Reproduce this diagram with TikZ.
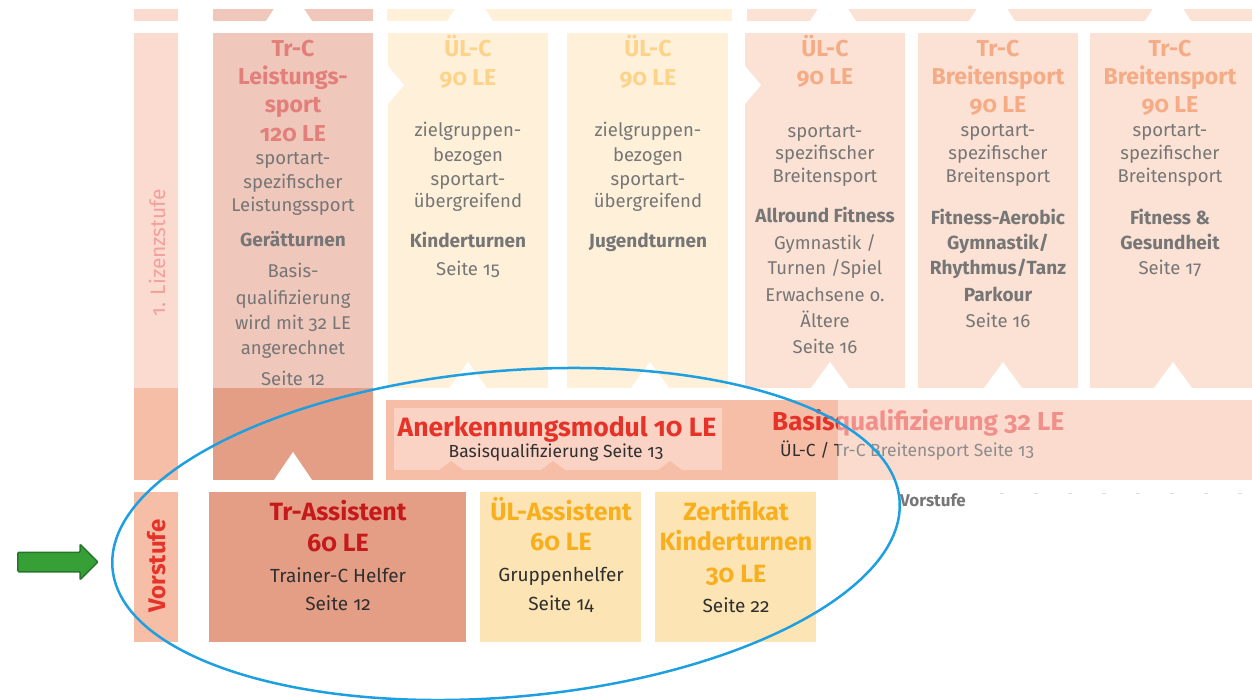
\documentclass[tikz,border=0pt]{standalone}
\usepackage{fontspec}
\setmainfont{Fira Sans}[Numbers=OldStyle]
\usetikzlibrary{shapes.arrows}
\definecolor{lizenz}{HTML}{FBDAD0}
\definecolor{leistung}{HTML}{F0C7BB}
\definecolor{ulc}{HTML}{FEF0D9}
\definecolor{breiten}{HTML}{FCE2D4}
\definecolor{basis}{HTML}{F7BEA7}
\definecolor{assist}{HTML}{E59E86}
\definecolor{anerk}{HTML}{FBD3C4}
\definecolor{ulassist}{HTML}{FDE4B4}
\definecolor{trcfade}{HTML}{E27F7B}
\definecolor{ulcfade}{HTML}{FDD38A}
\definecolor{brfade}{HTML}{F5AB86}
\definecolor{grau}{HTML}{767676}
\definecolor{dunkel}{HTML}{2F2F2F}
\definecolor{rot}{HTML}{E6332A}
\definecolor{dunkelrot}{HTML}{C51A1B}
\definecolor{ulorange}{HTML}{F8AF1E}
\definecolor{lizenztext}{HTML}{F2A09C}
\definecolor{kreis}{HTML}{1E9FE0}
\definecolor{pfeil}{HTML}{36A036}
\definecolor{pfeilrand}{HTML}{26752A}
\newcommand\kerbe[5][white]{\fill[#1] ({#2-#4},#3) -- (#2,{#3-#5}) -- ({#2+#4},#3) -- cycle;}

\begin{document}
\begin{tikzpicture}[x=1pt,y=-1pt,
    titel/.style={font=\bfseries\fontsize{23}{27}\selectfont,anchor=base,inner sep=0pt},
    tA/.style={titel,text=trcfade},
    tB/.style={titel,text=ulcfade},
    tD/.style={titel,text=brfade},
    info/.style={font=\fontsize{18.5}{22}\selectfont,text=grau,anchor=base,inner sep=0pt},
    fett/.style={font=\bfseries\fontsize{19}{22}\selectfont,text=grau,anchor=base,inner sep=0pt},
    vtitel/.style={font=\bfseries\fontsize{25}{28}\selectfont,anchor=base,inner sep=0pt},
    vinfo/.style={font=\fontsize{19}{22}\selectfont,text=dunkel,anchor=base,inner sep=0pt}]
\useasboundingbox (0,0) rectangle (1252,700);

\fill[lizenz] (134,9) rectangle (178,21);
\fill[leistung] (213,9) rectangle (373,21);
\fill[ulc] (387,9) rectangle (732,21);
\fill[breiten] (747,9) rectangle (1252,21);
\foreach \k in {289,470,833,992,1168} {\kerbe{\k}{21}{23}{35}}

\fill[lizenz] (134,33) rectangle (178,388);
\fill[leistung] (213,33) rectangle (373,388);
\fill[ulc] (388,33) rectangle (548,388);
\fill[ulc] (567,33) rectangle (728,388);
\fill[breiten] (745,33) rectangle (905,388);
\fill[breiten] (918,33) rectangle (1078,388);
\fill[breiten] (1090,33) rectangle (1252,388);
\foreach \k in {468,650,830,1003,1173} {\kerbe{\k}{388}{19}{26}}
\foreach \k in {388,745} \fill[white] (\k,66) -- (\k+16,85) -- (\k,104) -- cycle;

\fill[basis] (134,388) rectangle (178,480);
\fill[assist] (213,388) rectangle (373,480);
\kerbe{293}{480}{19}{28}
\fill[basis] (386,400) rectangle (1252,480);
\fill[anerk] (394,408) rectangle (722,470);
\foreach \k in {451,553,670} {\kerbe[basis]{\k}{470}{12}{9}}

\fill[basis] (134,492) rectangle (178,642);
\fill[assist] (209,492) rectangle (466,642);
\fill[ulassist] (480,492) rectangle (641,642);
\fill[ulassist] (655,492) rectangle (816,642);

\node[rotate=90,font=\fontsize{21}{24}\selectfont,text=lizenztext,inner sep=0pt] (lizenz) at (157,253) {1. Lizenzstufe};
\node[rotate=90,font=\bfseries\fontsize{24}{27}\selectfont,text=rot,inner sep=0pt] (vorstufe) at (157,566) {Vorstufe};

\foreach \s/\t/\y [count=\i] in {tA/Tr-C/57, tA/Leistungs-/85, tA/sport/113, tA/120 LE/142,
    info/sportart-/165, info/spezifischer/189, info/Leistungssport/212, fett/Gerätturnen/247,
    info/Basis-/278, info/qualifizierung/305, info/wird mit 32 LE/330, info/angerechnet/355, info/Seite 12/385}
  \node[\s] (lsp\i) at (293,\y) {\t};
\foreach \s/\t/\y [count=\i] in {tB/ÜL-C/57, tB/90 LE/86, info/zielgruppen-/137, info/bezogen/162,
    info/sportart-/186, info/übergreifend/208, fett/Kinderturnen/248, info/Seite 15/276}
  \node[\s] (kin\i) at (468,\y) {\t};
\foreach \s/\t/\y [count=\i] in {tB/ÜL-C/57, tB/90 LE/86, info/zielgruppen-/137, info/bezogen/162,
    info/sportart-/186, info/übergreifend/208, fett/Jugendturnen/248}
  \node[\s] (jug\i) at (648,\y) {\t};
\foreach \s/\t/\y [count=\i] in {tD/ÜL-C/57, tD/90 LE/85, info/sportart-/138, info/spezifischer/160,
    info/Breitensport/183, fett/Allround Fitness/223, info/{Gymnastik /}/250, info/{Turnen /Spiel}/275,
    info/Erwachsene o./302, info/Ältere/327, info/Seite 16/353}
  \node[\s] (all\i) at (825,\y) {\t};
\foreach \s/\t/\y [count=\i] in {tD/Tr-C/57, tD/Breitensport/85, tD/90 LE/113, info/sportart-/137,
    info/spezifischer/160, info/Breitensport/183, fett/Fitness-Aerobic/225, fett/{Gymnastik/}/250,
    fett/{Rhythmus/Tanz}/275, fett/Parkour/302, info/Seite 16/327}
  \node[\s] (aer\i) at (998,\y) {\t};
\foreach \s/\t/\y [count=\i] in {tD/Tr-C/57, tD/Breitensport/85, tD/90 LE/113, info/sportart-/137,
    info/spezifischer/160, info/Breitensport/183, fett/{Fitness \&}/225, fett/Gesundheit/250, info/Seite 17/275}
  \node[\s] (ges\i) at (1170,\y) {\t};

\node[vtitel,font=\bfseries\fontsize{26.5}{30}\selectfont,text=rot] (anerk) at (557,436) {Anerkennungsmodul 10 LE};
\node[vinfo,font=\fontsize{17.5}{20}\selectfont] (anerkseite) at (556,457) {Basisqualifizierung Seite 13};
\node[vtitel,font=\bfseries\fontsize{26}{30}\selectfont,text=rot,anchor=base west] (basisq) at (772,430) {Basisqualifizierung 32 LE};
\node[vinfo,font=\fontsize{17.5}{20}\selectfont,anchor=base west] (basisseite) at (780,456) {ÜL-C / Tr-C Breitensport Seite 13};
\fill[white,opacity=0.45] (838,400) rectangle (1252,480);

\node[font=\bfseries\fontsize{17}{20}\selectfont,text=grau,anchor=base west,inner sep=0pt] (vorlabel) at (900,506) {Vorstufe};
\draw[grau!25,line width=1pt,dash pattern=on 4pt off 30pt] (1000,493) -- (1252,493);

\node[vtitel,text=dunkelrot] (tra1) at (338,520) {Tr-Assistent};
\node[vtitel,text=dunkelrot] (tra2) at (338,551) {60 LE};
\node[vinfo] (tra3) at (338,582) {Trainer-C Helfer};
\node[vinfo] (tra4) at (338,610) {Seite 12};
\node[vtitel,text=ulorange] (ula1) at (561,520) {ÜL-Assistent};
\node[vtitel,text=ulorange] (ula2) at (561,550) {60 LE};
\node[vinfo] (ula3) at (561,581) {Gruppenhelfer};
\node[vinfo] (ula4) at (561,610) {Seite 14};
\foreach \t/\y [count=\i] in {Zertifikat/520, Kinderturnen/550, 30 LE/582}
  \node[vtitel,text=ulorange] (zer\i) at (736,\y) {\t};
\node[vinfo] (zer4) at (736,612) {Seite 22};

\node[single arrow,fill=pfeil,draw=pfeilrand,line width=1.5pt,rounded corners=1pt,
  minimum height=80pt,single arrow head extend=8pt,inner sep=9pt] (pfeil) at (53,562) {};
\draw[kreis,line width=2.5pt,rotate around={5:(506,534)}] (506,534) ellipse [x radius=395pt,y radius=163pt];
\end{tikzpicture}
\end{document}
